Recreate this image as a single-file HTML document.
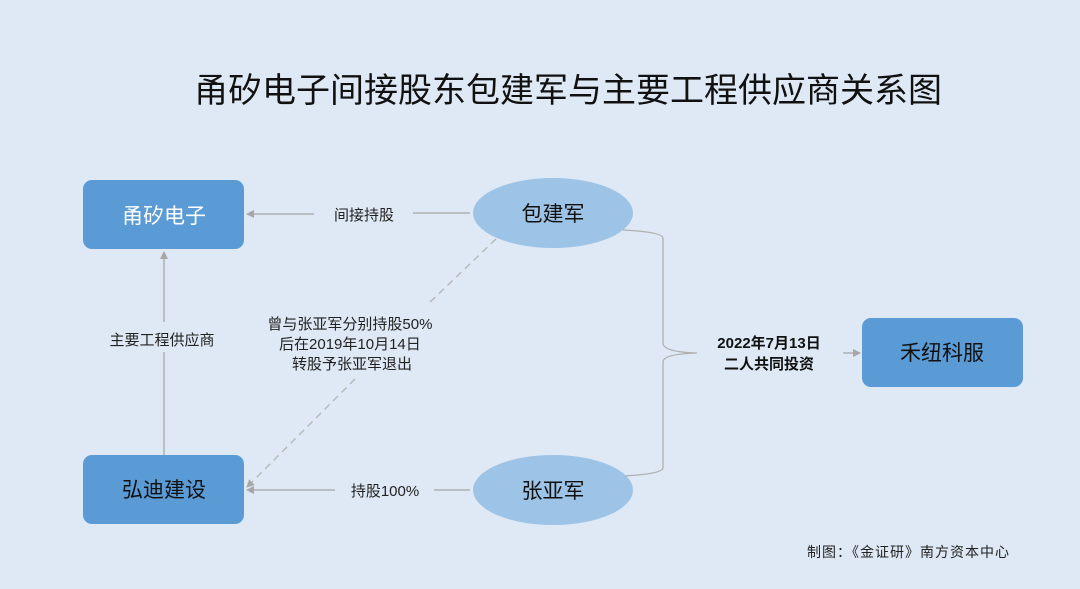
<!DOCTYPE html>
<html><head><meta charset="utf-8"><style>
html,body{margin:0;padding:0;background:#dee9f5;}
svg{display:block;}
text{font-family:"Liberation Sans","Noto Sans CJK SC",sans-serif;}
</style></head><body>
<svg width="1080" height="589" viewBox="0 0 1080 589" xmlns="http://www.w3.org/2000/svg">
<defs>
<marker id="a" markerWidth="8" markerHeight="8" refX="7" refY="4" orient="auto" markerUnits="userSpaceOnUse">
<path d="M0,0 L8,4 L0,8 z" fill="#a6a6a6"/></marker>
</defs>
<rect width="1080" height="589" fill="#dee9f5"/>
<text x="568" y="102" font-size="34" text-anchor="middle" fill="#111">甬矽电子间接股东包建军与主要工程供应商关系图</text>

<line x1="470" y1="213" x2="413" y2="213" stroke="#a6a6a6" stroke-width="1.3"/>
<line x1="314" y1="214" x2="247" y2="214" stroke="#a6a6a6" stroke-width="1.3" marker-end="url(#a)"/>
<text x="364" y="220" font-size="15" text-anchor="middle" fill="#222">间接持股</text>

<line x1="164" y1="455" x2="164" y2="352" stroke="#a6a6a6" stroke-width="1.3"/>
<line x1="164" y1="322" x2="164" y2="252" stroke="#a6a6a6" stroke-width="1.3" marker-end="url(#a)"/>
<text x="162" y="345" font-size="15" text-anchor="middle" fill="#222">主要工程供应商</text>

<line x1="470" y1="490" x2="434" y2="490" stroke="#a6a6a6" stroke-width="1.3"/>
<line x1="335" y1="490" x2="247" y2="490" stroke="#a6a6a6" stroke-width="1.3" marker-end="url(#a)"/>
<text x="385" y="496" font-size="15" text-anchor="middle" fill="#222">持股100%</text>

<line x1="496" y1="239" x2="427" y2="305" stroke="#b4b4b4" stroke-width="1.3" stroke-dasharray="7,5"/>
<line x1="355" y1="379" x2="247" y2="487" stroke="#b4b4b4" stroke-width="1.3" stroke-dasharray="7,5" marker-end="url(#a)"/>
<text font-size="15" text-anchor="middle" fill="#222">
<tspan x="352" y="329">曾与张亚军分别持股50%</tspan>
<tspan x="352" y="349">后在2019年10月14日</tspan>
<tspan x="352" y="369">转股予张亚军退出</tspan></text>

<path d="M623,230 Q662,232 663,238 L663,343 Q663,352 697,353 Q663,354 663,362 L663,468 Q662,474 623,476" fill="none" stroke="#b0b0b0" stroke-width="1.3"/>
<text x="769" y="348" font-size="15" font-weight="bold" text-anchor="middle" fill="#111">2022年7月13日</text>
<text x="769" y="369" font-size="15" font-weight="bold" text-anchor="middle" fill="#111">二人共同投资</text>
<line x1="843" y1="353" x2="860" y2="353" stroke="#a6a6a6" stroke-width="1.3" marker-end="url(#a)"/>

<rect x="83" y="180" width="161" height="69" rx="9" fill="#5b9bd5"/>
<text x="164" y="223" font-size="21" text-anchor="middle" fill="#fff">甬矽电子</text>
<rect x="83" y="455" width="161" height="69" rx="9" fill="#5b9bd5"/>
<text x="164" y="497" font-size="21" text-anchor="middle" fill="#111">弘迪建设</text>
<rect x="862" y="318" width="161" height="69" rx="9" fill="#5b9bd5"/>
<text x="942" y="360" font-size="21" text-anchor="middle" fill="#111">禾纽科服</text>

<ellipse cx="553" cy="213" rx="80" ry="35" fill="#9dc3e6"/>
<text x="553" y="221" font-size="21" text-anchor="middle" fill="#111">包建军</text>
<ellipse cx="553" cy="490" rx="80" ry="35" fill="#9dc3e6"/>
<text x="553" y="498" font-size="21" text-anchor="middle" fill="#111">张亚军</text>

<text x="908" y="557" font-size="14" text-anchor="middle" fill="#222" textLength="202">制图：《金证研》南方资本中心</text>
</svg>
</body></html>
